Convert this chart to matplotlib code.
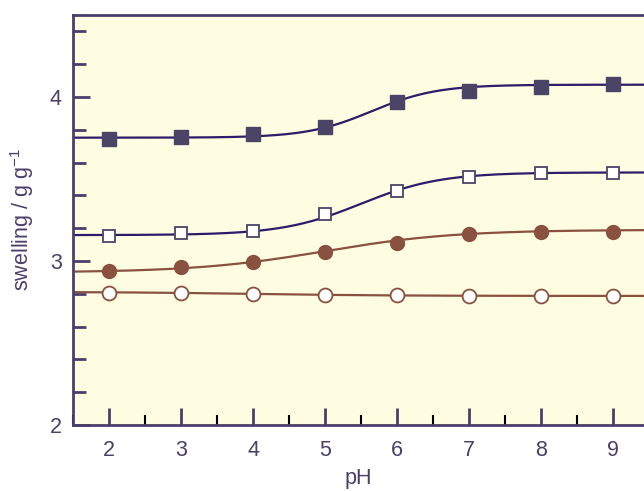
import numpy as np
import matplotlib
matplotlib.use("Agg")
import matplotlib.pyplot as plt
from matplotlib.ticker import MultipleLocator

plt.rcParams['font.family'] = ['Liberation Sans', 'DejaVu Sans']
plt.rcParams['mathtext.fontset'] = 'custom'
plt.rcParams['mathtext.rm'] = 'Liberation Sans'
plt.rcParams['mathtext.it'] = 'Liberation Sans:italic'
plt.rcParams['mathtext.default'] = 'regular'

ph = [2, 3, 4, 5, 6, 7, 8, 9]
filled_sq = [3.744, 3.758, 3.774, 3.819, 3.970, 4.037, 4.059, 4.079]
open_sq = [3.154, 3.169, 3.185, 3.285, 3.427, 3.514, 3.535, 3.535]
filled_ci = [2.939, 2.965, 2.996, 3.053, 3.110, 3.165, 3.175, 3.179]
open_ci = [2.807, 2.803, 2.800, 2.792, 2.790, 2.787, 2.787, 2.787]

# Boltzmann fit parameters (A1, A2, x0, dx) for the fitted curves
fit_filled_sq = [3.752, 4.075, 5.65, 0.45]
fit_open_sq = [3.158, 3.540, 5.5, 0.55]
fit_filled_ci = [2.930, 3.190, 5.0, 0.9]
fit_open_ci = [2.812, 2.787, 4.0, 1.0]

purple_line = '#2d1b6b'
purple_fill = '#4a4466'
brown = '#8a5040'
axis_col = '#4a3f6b'
bg = '#fefde2'

def boltz(x, p):
    a1, a2, x0, dx = p
    return a2 + (a1 - a2) / (1 + np.exp((x - x0) / dx))

fig = plt.figure(figsize=(6.44, 4.91), dpi=100)
ax = fig.add_axes([73/644, 66/491, 1 - 73/644, (425-15)/491])
ax.set_facecolor(bg)

xs = np.linspace(1.5, 9.6, 300)
ax.plot(xs, boltz(xs, fit_filled_sq), color=purple_line, lw=1.6, zorder=2)
ax.plot(xs, boltz(xs, fit_open_sq), color=purple_line, lw=1.6, zorder=2)
ax.plot(xs, boltz(xs, fit_filled_ci), color=brown, lw=1.6, zorder=2)
ax.plot(xs, boltz(xs, fit_open_ci), color=brown, lw=1.6, zorder=2)

ax.plot(ph, filled_sq, 's', ms=9.5, mfc=purple_fill, mec=purple_fill, ls='none', zorder=3)
ax.plot(ph, open_sq, 's', ms=8.5, mfc='white', mec=purple_fill, mew=1.3, ls='none', zorder=3)
ax.plot(ph, filled_ci, 'o', ms=10, mfc=brown, mec=brown, ls='none', zorder=3)
ax.plot(ph, open_ci, 'o', ms=10, mfc='white', mec=brown, mew=1.3, ls='none', zorder=3)

ax.set_xlim(1.5, 9.43)
ax.set_ylim(2, 4.5)
ax.xaxis.set_major_locator(MultipleLocator(1))
ax.xaxis.set_minor_locator(MultipleLocator(0.5))
ax.yaxis.set_major_locator(MultipleLocator(1))
ax.yaxis.set_minor_locator(MultipleLocator(0.2))

for s in ['left', 'bottom', 'top']:
    ax.spines[s].set_color(axis_col)
    ax.spines[s].set_linewidth(2)
ax.spines['right'].set_visible(False)

ax.tick_params(axis='both', which='major', direction='in', length=12, width=2,
               color=axis_col, labelcolor=axis_col, labelsize=15.5, pad=8)
ax.tick_params(axis='x', which='major', pad=11)
ax.tick_params(axis='y', which='minor', direction='in', length=9, width=2, color=axis_col)
ax.tick_params(axis='x', which='minor', direction='in', length=7, width=1.5, color='black')

ax.set_xlabel('pH', color=axis_col, fontsize=15.5, labelpad=5)
ax.set_ylabel('swelling / g g$^{-1}$', color=axis_col, fontsize=15.5, labelpad=10)

fig.savefig('out.png', dpi=100, facecolor='white')
